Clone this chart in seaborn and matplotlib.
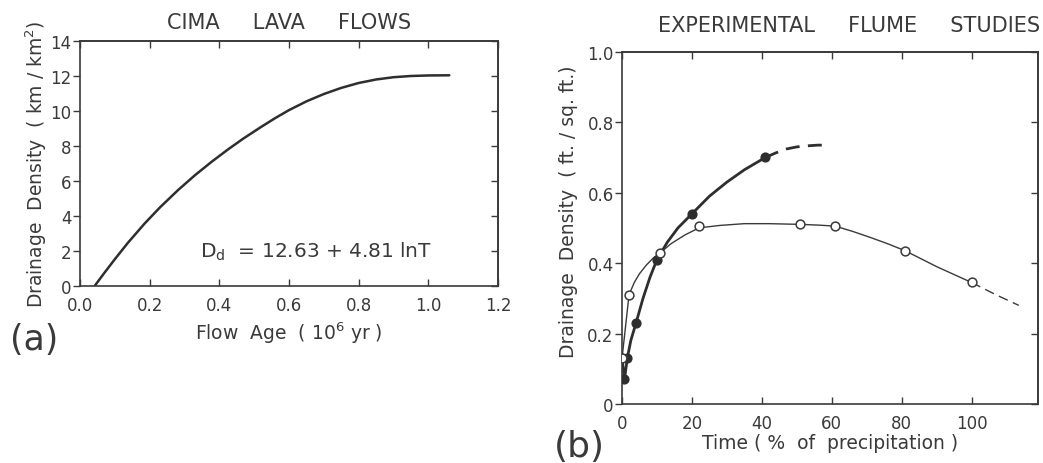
"""
Drainage density: Cima lava flows vs experimental flume studies
"""

import matplotlib.pyplot as plt
import pandas as pd
import seaborn as sns

# (a) Cima lava flows, curve
age = [0.042, 0.07, 0.1, 0.138, 0.186, 0.23, 0.282, 0.33, 0.378, 0.426, 0.47,
       0.52, 0.56, 0.6, 0.65, 0.7, 0.75, 0.8, 0.85, 0.9, 0.95, 1.0, 1.06]
density_a = [0.0, 0.75, 1.53, 2.48, 3.58, 4.5, 5.49, 6.33, 7.1, 7.82, 8.44,
             9.09, 9.59, 10.05, 10.55, 10.97, 11.32, 11.6, 11.8, 11.93, 12.0,
             12.03, 12.04]

# (b) flume studies, measured points
time_filled = [0, 0.7, 1.5, 4, 10, 20, 41]
dens_filled = [0.13, 0.07, 0.13, 0.23, 0.41, 0.54, 0.70]
time_open = [0, 2, 11, 22, 51, 61, 81, 100]
dens_open = [0.13, 0.31, 0.43, 0.505, 0.51, 0.505, 0.435, 0.345]

# smooth curves drawn through the points
curve_filled_t = [0, 0.7, 1.5, 2.5, 4, 6, 8, 10, 13, 16, 20, 25, 30, 35, 41]
curve_filled_d = [0.13, 0.07, 0.13, 0.18, 0.23, 0.30, 0.36, 0.41, 0.46, 0.50,
                  0.54, 0.59, 0.63, 0.665, 0.70]
dash_filled_t = [41, 44, 47, 50, 53, 56, 59]
dash_filled_d = [0.70, 0.713, 0.724, 0.73, 0.733, 0.735, 0.735]
curve_open_t = [0, 2, 3.5, 5, 7, 9, 11, 14, 18, 22, 28, 35, 42, 51, 56, 61,
                66, 71, 76, 81, 90, 100]
curve_open_d = [0.13, 0.31, 0.345, 0.37, 0.395, 0.415, 0.43, 0.455, 0.48,
                0.50, 0.507, 0.512, 0.512, 0.51, 0.508, 0.505, 0.49, 0.473,
                0.455, 0.435, 0.39, 0.345]
dash_open_t = [100, 107, 113.5]
dash_open_d = [0.345, 0.31, 0.28]

INK = "#3a3a3a"
DARK = "#2e2e2e"

sns.set_theme(style="ticks")
plt.rcParams["font.family"] = ["DejaVu Sans"]
plt.rcParams["text.color"] = INK
plt.rcParams["axes.labelcolor"] = INK
plt.rcParams["xtick.color"] = INK
plt.rcParams["ytick.color"] = INK
plt.rcParams["axes.edgecolor"] = INK

fig = plt.figure(figsize=(10.43, 4.64), dpi=100)
ax_a = fig.add_axes([0.0767, 0.3815, 0.4008, 0.528])
ax_b = fig.add_axes([0.5964, 0.1272, 0.3988, 0.759])


def style_axes(ax, xticks, yticks):
    ax.set_xticks(xticks)
    ax.set_yticks(yticks)
    ax.tick_params(axis="y", direction="out", length=5, width=1, labelsize=12,
                   pad=1, left=True)
    ax.tick_params(axis="x", direction="in", length=5, width=1, labelsize=12,
                   pad=7, bottom=True)
    for s in ax.spines.values():
        s.set_linewidth(1.2)
    top = ax.secondary_xaxis("top")
    top.set_xticks(xticks)
    top.tick_params(direction="in", length=5, width=1, labeltop=False)
    right = ax.secondary_yaxis("right")
    right.set_yticks(yticks)
    right.tick_params(direction="in", length=5, width=1, labelright=False)


# panel (a)
df_a = pd.DataFrame({"age": age, "density": density_a})
sns.lineplot(data=df_a, x="age", y="density", ax=ax_a, color=DARK, lw=1.8,
             sort=False, estimator=None)
ax_a.set_xlim(0, 1.2)
ax_a.set_ylim(0, 14)
style_axes(ax_a, [0, 0.2, 0.4, 0.6, 0.8, 1.0, 1.2], list(range(0, 15, 2)))
ax_a.set_xticklabels(["0.0", "0.2", "0.4", "0.6", "0.8", "1.0", "1.2"])
ax_a.set_xlabel("Flow  Age  ( 10$^6$ yr )", fontsize=13.5, labelpad=4)
ax_a.set_ylabel("Drainage  Density  ( km / km$^2$)", fontsize=13.5, labelpad=1)
ax_a.set_title("CIMA     LAVA     FLOWS", fontsize=15, pad=9)
ax_a.text(0.345, 2.0, "D$_\\mathregular{d}$  = 12.63 + 4.81 lnT", fontsize=14.5,
          va="center", ha="left")
fig.text(0.01, 0.268, "(a)", fontsize=25, va="center", ha="left")

# panel (b)
sns.lineplot(x=curve_filled_t, y=curve_filled_d, ax=ax_b, color=DARK,
             lw=2.0, sort=False, estimator=None)
sns.lineplot(x=dash_filled_t, y=dash_filled_d, ax=ax_b, color=DARK,
             lw=2.0, sort=False, estimator=None, linestyle=(0, (5, 3)))
sns.lineplot(x=curve_open_t, y=curve_open_d, ax=ax_b, color=INK, lw=1.0,
             sort=False, estimator=None)
sns.lineplot(x=dash_open_t, y=dash_open_d, ax=ax_b, color=INK, lw=1.0,
             sort=False, estimator=None, linestyle=(0, (7, 4)))
sns.scatterplot(x=time_filled, y=dens_filled, ax=ax_b, color=DARK, s=40,
                edgecolor=DARK, linewidth=1, zorder=5)
sns.scatterplot(x=time_open, y=dens_open, ax=ax_b, facecolor="white", s=40,
                edgecolor=INK, linewidth=1.1, zorder=6)
ax_b.set_xlim(0, 119)
ax_b.set_ylim(0, 1.0)
style_axes(ax_b, [0, 20, 40, 60, 80, 100], [0, 0.2, 0.4, 0.6, 0.8, 1.0])
ax_b.set_yticklabels(["0", "0.2", "0.4", "0.6", "0.8", "1.0"])
ax_b.set_xlabel("Time ( %  of  precipitation )", fontsize=13.5, labelpad=1)
ax_b.set_ylabel("Drainage  Density  ( ft. / sq. ft.)", fontsize=13.5)
ax_b.yaxis.set_label_coords(-0.105, 0.55)
ax_b.set_title("EXPERIMENTAL     FLUME     STUDIES", fontsize=15, pad=15,
               loc="right", x=1.005)
fig.text(0.531, 0.037, "(b)", fontsize=26, va="center", ha="left")

plt.savefig("out.png", dpi=100)
plt.close()
